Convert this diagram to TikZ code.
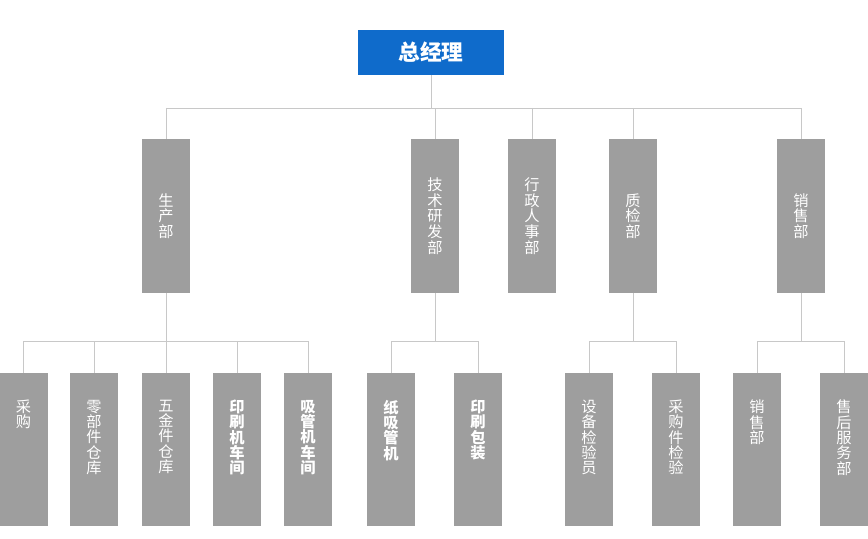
\documentclass[tikz,border=0pt]{standalone}
\usepackage{fontspec}
\setmainfont{Noto Sans CJK SC}
\usetikzlibrary{positioning}
\definecolor{bossblue}{HTML}{0F6BCB}
\definecolor{boxgray}{HTML}{9E9E9E}
\definecolor{linkgray}{HTML}{C8C8C8}
\tikzset{boss/.style = {fill=bossblue, text=white, inner sep=0pt,
    minimum width=4.38cm, minimum height=1.35cm,
    font=\fontsize{18.5}{20}\selectfont\bfseries}}
\tikzset{dept/.style = {fill=boxgray, text=white, align=center, inner sep=0pt,
    minimum width=1.44cm, minimum height=4.59cm,
    font=\fontsize{13}{13.4}\selectfont}}
\tikzset{unit/.style = {fill=boxgray, anchor=north, inner sep=0pt,
    minimum width=1.44cm, minimum height=4.59cm}}
\tikzset{unittext/.style = {text=white, align=center, anchor=north,
    inner sep=0pt, yshift=-0.8cm}}
\tikzset{light/.style = {font=\fontsize{13}{13.1}\selectfont}}
\tikzset{heavy/.style = {font=\fontsize{13}{13.1}\selectfont\bfseries}}
\tikzset{link/.style = {draw=linkgray, line width=0.8pt}}

\begin{document}
\begin{tikzpicture}[x=0.03cm, y=-0.03cm]
    \useasboundingbox (0,0) rectangle (868,539);

    % general manager
    \node[boss] (gm) at (431,52.5) {总经理};

    % departments
    \foreach \Name/\X/\Label in {%
        prod/166/生\\产\\部,
        tech/435/技\\术\\研\\发\\部,
        admin/532/行\\政\\人\\事\\部,
        qc/633/质\\检\\部,
        sales/801/销\\售\\部%
        }
        \node[dept] (\Name) at (\X,216) {\Label};

    % units below the departments
    \foreach \Name/\X/\Weight/\Label in {%
        buy/23.5/light/采\\购,
        parts/94/light/零\\部\\件\\仓\\库,
        hardware/166/light/五\\金\\件\\仓\\库,
        press/237/heavy/印\\刷\\机\\车\\间,
        straw/308/heavy/吸\\管\\机\\车\\间,
        paper/391/heavy/纸\\吸\\管\\机,
        pack/478/heavy/印\\刷\\包\\装,
        equip/589/light/设\\备\\检\\验\\员,
        incheck/676/light/采\\购\\件\\检\\验,
        sell/757/light/销\\售\\部,
        service/844/light/售\\后\\服\\务\\部%
        }
        \node[unit, label={[unittext, \Weight]north:\Label}] (\Name) at (\X,373) {};

    % connectors
    \coordinate (topbus) at (0,108);
    \coordinate (lowbus) at (0,341);
    \draw[link] (gm.south) -- (gm.south |- topbus);
    \draw[link] (prod |- topbus) -- (sales |- topbus);
    \foreach \Dept in {prod,tech,admin,qc,sales}
        \draw[link] (\Dept |- topbus) -- (\Dept.north);
    \foreach \Dept/\First/\Last in {%
        prod/buy/straw,
        tech/paper/pack,
        qc/equip/incheck,
        sales/sell/service%
        }
        {
        \draw[link] (\Dept.south) -- (\Dept |- lowbus);
        \draw[link] (\First |- lowbus) -- (\Last |- lowbus);
        }
    \foreach \Unit in {buy,parts,hardware,press,straw,paper,pack,equip,incheck,sell,service}
        \draw[link] (\Unit |- lowbus) -- (\Unit.north);
\end{tikzpicture}
\end{document}
